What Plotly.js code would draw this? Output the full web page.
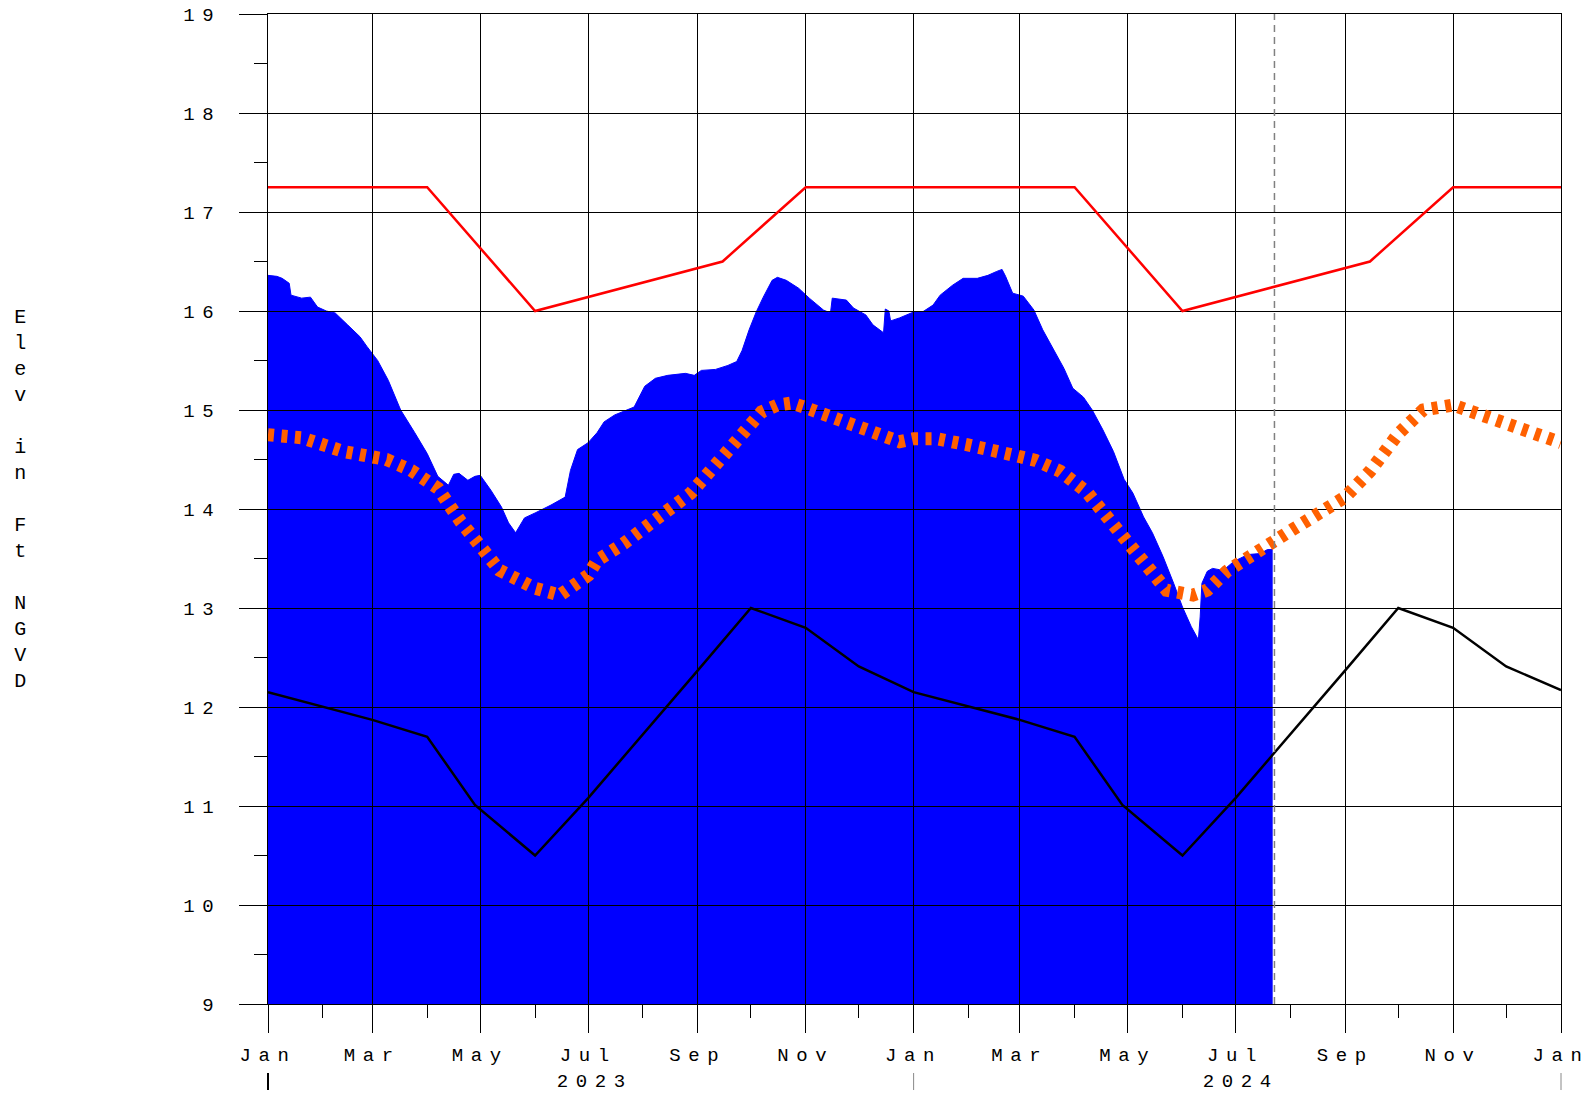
<!DOCTYPE html>
<html>
<head>
<meta charset="utf-8">
<script src="https://cdn.plot.ly/plotly-3.0.1.min.js"></script>
<style>
html, body { margin: 0; padding: 0; background: #fff; }
#chart { width: 1589px; height: 1094px; }
.x2tick text, .y2tick text, .annotation text { letter-spacing: 7.6px !important; }
</style>
</head>
<body>
<div id="chart"></div>
<script>
// ---------- DATA ----------
const rangeStart = '2023-01-01';
const rangeEnd = '2025-01-01';
const yRange = [9, 19];

// Observed stage (blue area)
const stageDates = [
  '2023-01-01','2023-01-06','2023-01-09','2023-01-13','2023-01-14','2023-01-20','2023-01-25','2023-01-29',
  '2023-02-03','2023-02-08','2023-02-15','2023-02-22','2023-02-26','2023-03-04','2023-03-10','2023-03-17',
  '2023-03-25','2023-04-01','2023-04-07','2023-04-13','2023-04-16','2023-04-19','2023-04-24','2023-04-28',
  '2023-05-01','2023-05-07','2023-05-13','2023-05-17','2023-05-21','2023-05-26','2023-06-01','2023-06-10',
  '2023-06-18','2023-06-21','2023-06-25','2023-07-01','2023-07-06','2023-07-10','2023-07-16','2023-07-20',
  '2023-07-27','2023-08-02','2023-08-08','2023-08-15','2023-08-25','2023-08-30','2023-09-03','2023-09-11',
  '2023-09-18','2023-09-23','2023-09-26','2023-09-30','2023-10-04','2023-10-08','2023-10-13','2023-10-16',
  '2023-10-21','2023-10-28','2023-11-03','2023-11-11','2023-11-15','2023-11-16','2023-11-24','2023-11-28',
  '2023-12-05','2023-12-09','2023-12-14','2023-12-15','2023-12-16','2023-12-18','2023-12-19','2023-12-24',
  '2024-01-01','2024-01-06','2024-01-12','2024-01-16','2024-01-23','2024-01-29','2024-02-06','2024-02-12',
  '2024-02-17','2024-02-20','2024-02-22','2024-02-26','2024-03-03','2024-03-09','2024-03-14','2024-03-20',
  '2024-03-26','2024-03-31','2024-04-06','2024-04-11','2024-04-17','2024-04-23','2024-04-29','2024-05-04',
  '2024-05-10','2024-05-15','2024-05-21','2024-05-27','2024-06-01','2024-06-06','2024-06-10','2024-06-11',
  '2024-06-12','2024-06-15','2024-06-18','2024-06-24','2024-06-30','2024-07-08','2024-07-15','2024-07-19',
  '2024-07-22'
];
const stageVals = [
  16.36,16.35,16.33,16.28,16.16,16.13,16.14,16.04,
  16.00,15.98,15.86,15.74,15.64,15.50,15.30,15.00,
  14.77,14.56,14.33,14.24,14.35,14.36,14.29,14.33,
  14.34,14.19,14.02,13.86,13.76,13.91,13.96,14.04,
  14.12,14.39,14.60,14.67,14.77,14.88,14.95,14.98,
  15.03,15.24,15.32,15.35,15.37,15.35,15.40,15.41,
  15.45,15.49,15.60,15.81,15.99,16.14,16.31,16.34,
  16.31,16.23,16.13,16.01,15.98,16.13,16.11,16.03,
  15.96,15.86,15.79,15.78,16.02,16.00,15.90,15.93,
  15.99,15.99,16.06,16.16,16.26,16.33,16.33,16.36,
  16.40,16.42,16.35,16.18,16.15,16.01,15.81,15.62,
  15.42,15.22,15.13,15.00,14.80,14.58,14.30,14.16,
  13.92,13.76,13.52,13.25,13.01,12.81,12.68,12.91,
  13.25,13.37,13.40,13.38,13.47,13.54,13.55,13.59,
  13.59
];

// Upper regulation schedule (red)
const upperDates = ['2023-01-01','2023-04-01','2023-06-01','2023-09-15','2023-11-01',
                    '2024-04-01','2024-06-01','2024-09-15','2024-11-01','2025-01-01'];
const upperVals = [17.25,17.25,16.0,16.5,17.25,17.25,16.0,16.5,17.25,17.25];

// Lower schedule (black)
const lowerDates = ['2023-01-01','2023-03-01','2023-04-01','2023-04-28','2023-06-01','2023-07-01',
                    '2023-09-01','2023-10-01','2023-11-01','2023-12-01',
                    '2024-01-01','2024-03-01','2024-04-01','2024-04-28','2024-06-01','2024-07-01',
                    '2024-09-01','2024-10-01','2024-11-01','2024-12-01','2025-01-01'];
const lowerVals = [12.15,11.87,11.70,11.01,10.50,11.08,12.37,13.00,12.80,12.41,
                   12.15,11.87,11.70,11.01,10.50,11.08,12.37,13.00,12.80,12.41,12.17];

// Target curve (orange)
const targetDates = ['2023-01-01','2023-01-20','2023-02-13','2023-03-09','2023-03-23','2023-04-07',
  '2023-04-20','2023-05-01','2023-05-12','2023-06-01','2023-06-15','2023-07-01','2023-07-06',
  '2023-07-21','2023-08-11','2023-08-28','2023-09-20','2023-09-27','2023-10-07','2023-10-16',
  '2023-10-24','2023-10-31','2023-11-15','2023-12-01','2023-12-24','2024-01-01','2024-01-14',
  '2024-01-31','2024-02-17','2024-02-25','2024-03-10','2024-03-24','2024-04-08','2024-04-19',
  '2024-04-30','2024-05-12','2024-05-23','2024-06-07','2024-06-15','2024-06-26','2024-07-11',
  '2024-07-26','2024-08-02','2024-09-01','2024-09-15','2024-10-01','2024-10-15','2024-11-01',
  '2024-11-15','2024-12-01','2024-12-15','2025-01-01'];
const targetVals = [14.75,14.72,14.58,14.50,14.39,14.21,
  13.87,13.60,13.38,13.20,13.13,13.33,13.48,
  13.65,13.94,14.16,14.63,14.77,14.98,15.05,
  15.07,15.03,14.93,14.81,14.68,14.71,14.71,
  14.65,14.56,14.55,14.49,14.38,14.17,13.92,
  13.69,13.40,13.18,13.13,13.18,13.37,13.55,
  13.70,13.79,14.12,14.38,14.76,15.00,15.05,
  14.96,14.84,14.76,14.67];

const todayDate = '2024-07-23';
const yearLabels = ['2023', '2024'];
const yearStarts = ['2023-01-01', '2024-01-01', '2025-01-01'];
const yTitle = 'Elev in Ft NGVD';

// ---------- CHART ----------
const FONT = 'Liberation Mono, Courier New, monospace';
const t0 = Date.parse(rangeStart + 'T00:00:00Z');
const t1 = Date.parse(rangeEnd + 'T00:00:00Z');
const frac = d => (Date.parse(d + 'T00:00:00Z') - t0) / (t1 - t0);

const traces = [
  { x: stageDates, y: stageVals, xaxis: 'x', yaxis: 'y', type: 'scatter', mode: 'lines',
    fill: 'tozeroy', fillcolor: '#0000ff', line: { color: '#0000ff', width: 1 }, hoverinfo: 'skip' },
  { x: upperDates, y: upperVals, xaxis: 'x2', yaxis: 'y2', type: 'scatter', mode: 'lines',
    line: { color: '#ff0000', width: 2.5 } },
  { x: lowerDates, y: lowerVals, xaxis: 'x2', yaxis: 'y2', type: 'scatter', mode: 'lines',
    line: { color: '#000000', width: 2.5 } },
  { x: targetDates, y: targetVals, xaxis: 'x2', yaxis: 'y2', type: 'scatter', mode: 'lines',
    line: { color: '#ff6000', width: 13, dash: '6px,7.5px' } }
];

// Title letters stacked vertically
const titleText = yTitle.split('').join('<br>');

const shapes = [];
yearStarts.forEach((d, i) => {
  const xf = frac(d);
  shapes.push({ type: 'line', xref: 'paper', yref: 'paper', x0: xf, x1: xf, y0: -0.0697, y1: -0.0869,
    line: { color: i === 0 ? '#000' : '#888', width: i === 0 ? 2 : 1 } });
});
shapes.push({ type: 'line', xref: 'x2', yref: 'paper', x0: todayDate, x1: todayDate, y0: 0, y1: 1,
  layer: 'above', line: { color: '#808080', width: 1.5, dash: '7px,5px' } });

const annotations = yearLabels.map((t, i) => ({
  text: t, xref: 'paper', yref: 'paper', showarrow: false,
  x: (frac(yearStarts[i]) + frac(yearStarts[i + 1])) / 2 + 0.003, y: -0.079,
  xanchor: 'center', yanchor: 'middle', font: { family: FONT, size: 19, color: '#000' }
}));
annotations.push({
  text: titleText, xref: 'paper', yref: 'paper', showarrow: false,
  x: -0.1889, y: 0.51, xanchor: 'center', yanchor: 'middle', align: 'center',
  font: { family: FONT, size: 20, color: '#000' }
});

const axisCommon = {
  showline: true, linecolor: '#000', linewidth: 1, mirror: true,
  showgrid: true, gridcolor: '#000', gridwidth: 1, zeroline: false,
  ticks: 'outside', ticklen: 28, tickwidth: 1, tickcolor: '#000',
  ticklabeloverflow: 'allow',
  tickfont: { family: FONT, size: 19, color: '#000' }
};

const layout = {
  width: 1589, height: 1094,
  margin: { l: 268, r: 28, t: 14, b: 90, pad: 0 },
  paper_bgcolor: '#ffffff', plot_bgcolor: 'rgba(0,0,0,0)',
  showlegend: false,
  font: { family: FONT, size: 19, color: '#000' },
  xaxis: { type: 'date', range: [rangeStart, rangeEnd], visible: false, fixedrange: true },
  yaxis: { range: yRange, visible: false, fixedrange: true },
  xaxis2: Object.assign({}, axisCommon, {
    type: 'date', anchor: 'y2', range: [rangeStart, rangeEnd],
    tick0: rangeStart, dtick: 'M2', tickformat: '%b', ticklabelstandoff: 5,
    minor: { dtick: 'M1', ticks: 'outside', ticklen: 13, tickwidth: 1, tickcolor: '#000', showgrid: false }
  }),
  yaxis2: Object.assign({}, axisCommon, {
    anchor: 'x2', range: yRange, tick0: 9, dtick: 1, ticklabelstandoff: 14,
    minor: { dtick: 0.5, ticks: 'outside', ticklen: 13, tickwidth: 1, tickcolor: '#000', showgrid: false }
  }),
  shapes: shapes,
  annotations: annotations
};

Plotly.newPlot('chart', traces, layout, { staticPlot: true, displayModeBar: false });
</script>
</body>
</html>
